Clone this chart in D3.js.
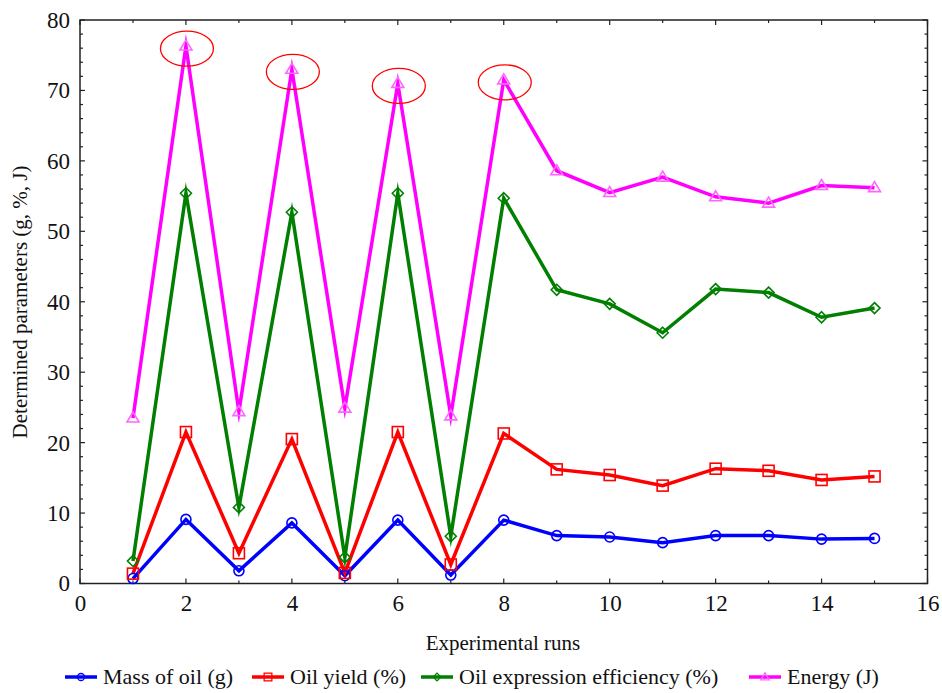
<!DOCTYPE html>
<html><head><meta charset="utf-8">
<script src="https://cdn.jsdelivr.net/npm/d3@7"></script>
</head><body style="margin:0">
<svg id="c" width="942" height="693"></svg>
<script>
const runs = [1,2,3,4,5,6,7,8,9,10,11,12,13,14,15];
const massOfOil = [0.7,9.1,1.8,8.6,1.1,9.0,1.2,9.0,6.8,6.6,5.8,6.8,6.8,6.3,6.4];
const oilYield = [1.4,21.5,4.3,20.5,1.5,21.5,2.7,21.3,16.2,15.4,13.9,16.3,16.0,14.7,15.2];
const efficiency = [3.2,55.4,10.8,52.7,3.7,55.4,6.7,54.7,41.7,39.7,35.6,41.8,41.3,37.8,39.1];
const energy = [23.5,76.3,24.4,73.0,24.9,71.0,23.8,71.5,58.6,55.5,57.7,54.9,54.0,56.5,56.2];
const xTicks = [0,2,4,6,8,10,12,14,16];
const yTicks = [0,10,20,30,40,50,60,70,80];
const highlighted = [2,4,6,8];
const seriesNames = ["Mass of oil (g)","Oil yield (%)","Oil expression efficiency (%)","Energy (J)"];

const svg = d3.select("#c");
const L=80, R=927.5, T=20, B=583.5;
const x = d3.scaleLinear().domain([0,16]).range([L,R]);
const y = d3.scaleLinear().domain([0,80]).range([B,T]);

const series = [
  {name:seriesNames[0], vals:massOfOil, color:"#0000ff", mcol:"#0000ff", shape:"circle"},
  {name:seriesNames[1], vals:oilYield, color:"#ff0000", mcol:"#ff0000", shape:"square"},
  {name:seriesNames[2], vals:efficiency, color:"#007f00", mcol:"#007f00", shape:"diamond"},
  {name:seriesNames[3], vals:energy, color:"#ff00ff", mcol:"#ff66ff", shape:"triangle"}
];

function marker(g, shape, cx, cy, s, col, sw){
  if(shape==="circle") g.append("circle").attr("cx",cx).attr("cy",cy).attr("r",5*s).attr("fill","none").attr("stroke",col).attr("stroke-width",sw);
  else if(shape==="square") g.append("rect").attr("x",cx-5.5*s).attr("y",cy-5.5*s).attr("width",11*s).attr("height",11*s).attr("fill","none").attr("stroke",col).attr("stroke-width",sw);
  else if(shape==="diamond") g.append("path").attr("d",`M${cx},${cy-5.5*s}L${cx+5.5*s},${cy}L${cx},${cy+5.5*s}L${cx-5.5*s},${cy}Z`).attr("fill","none").attr("stroke",col).attr("stroke-width",sw);
  else g.append("path").attr("d",`M${cx},${cy-6*s}L${cx+6*s},${cy+4*s}L${cx-6*s},${cy+4*s}Z`).attr("fill","none").attr("stroke",col).attr("stroke-width",sw);
}
function txt(sel, size){ return sel.style("font-family",'"Liberation Serif"').attr("font-size",size).attr("fill","#111"); }

const frame = svg.append("g");
frame.append("rect").attr("x",L).attr("y",T).attr("width",R-L).attr("height",B-T).attr("fill","none").attr("stroke","#222").attr("stroke-width",1.5);

d3.range(0,17,1).forEach(v=>{
  const len = v%2===0?5:3;
  frame.append("line").attr("x1",x(v)).attr("x2",x(v)).attr("y1",B).attr("y2",B-len).attr("stroke","#222").attr("stroke-width",1.2);
  frame.append("line").attr("x1",x(v)).attr("x2",x(v)).attr("y1",T).attr("y2",T+len).attr("stroke","#222").attr("stroke-width",1.2);
});
d3.range(0,81,2).forEach(v=>{
  const len = v%10===0?5:3;
  frame.append("line").attr("x1",L).attr("x2",L+len).attr("y1",y(v)).attr("y2",y(v)).attr("stroke","#222").attr("stroke-width",1.2);
  frame.append("line").attr("x1",R).attr("x2",R-len).attr("y1",y(v)).attr("y2",y(v)).attr("stroke","#222").attr("stroke-width",1.2);
});

const gx = svg.append("g").attr("transform",`translate(0,${B})`).call(d3.axisBottom(x).tickValues(xTicks).tickSize(0).tickPadding(11));
gx.attr("font-family",null).attr("font-size",null);
gx.select(".domain").remove();
txt(gx.selectAll("text"),23);
const gy = svg.append("g").attr("transform",`translate(${L},0)`).call(d3.axisLeft(y).tickValues(yTicks).tickSize(0).tickPadding(10));
gy.attr("font-family",null).attr("font-size",null);
gy.select(".domain").remove();
txt(gy.selectAll("text"),23);

txt(svg.append("text").attr("x",503).attr("y",650).attr("text-anchor","middle"),21).text("Experimental runs");
txt(svg.append("text").attr("transform",`translate(27,302) rotate(-90)`).attr("text-anchor","middle"),21).text("Determined parameters (g, %, J)");

const plot = svg.append("g");
const line = d3.line().x((d,i)=>x(runs[i])).y(d=>y(d));
series.forEach(s=>{
  plot.append("path").datum(s.vals).attr("d",line).attr("fill","none").attr("stroke",s.color).attr("stroke-width",3.5).attr("stroke-linejoin","miter").attr("stroke-miterlimit",10);
});
series.forEach(s=>{
  s.vals.forEach((v,i)=>marker(plot,s.shape,x(runs[i]),y(v),1,s.mcol,1.6));
});

highlighted.forEach(r=>{
  const i = runs.indexOf(r);
  svg.append("ellipse").attr("cx",x(r)+1).attr("cy",y(energy[i])+2.5).attr("rx",26.5).attr("ry",17.5).attr("fill","none").attr("stroke","#ff0000").attr("stroke-width",1.3);
});

const legX = [65,252,421,749];
const lg = svg.append("g");
series.forEach((s,k)=>{
  const lx = legX[k], ly = 677;
  lg.append("line").attr("x1",lx).attr("x2",lx+32).attr("y1",ly).attr("y2",ly).attr("stroke",s.color).attr("stroke-width",3.5);
  marker(lg,s.shape,lx+16,ly,0.7,s.mcol,1.3);
  txt(lg.append("text").attr("x",lx+38).attr("y",ly+7),22).text(s.name);
});
</script>
</body></html>
